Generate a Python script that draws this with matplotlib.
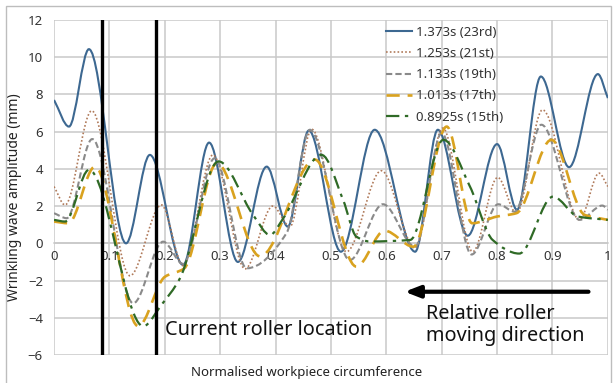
import numpy as np
import matplotlib
matplotlib.use("Agg")
import matplotlib.pyplot as plt
from matplotlib.path import Path
from matplotlib.patches import PathPatch, Rectangle
from matplotlib.lines import Line2D

plt.rcParams['font.family'] = ['Noto Sans', 'DejaVu Sans']

# Data (peaks / troughs / shoulders of each wave)
labels = ['1.373s (23rd)', '1.253s (21st)', '1.133s (19th)', '1.013s (17th)', '0.8925s (15th)']

x_23 = [0, 0.027, 0.063, 0.13, 0.173, 0.233, 0.28, 0.332, 0.384, 0.422, 0.46, 0.518,
        0.579, 0.652, 0.693, 0.747, 0.80, 0.836, 0.879, 0.93, 0.982, 1.0]
y_23 = [7.7, 6.27, 10.43, 0.0, 4.75, -1.16, 5.41, -1.0, 4.12, 0.9, 6.06, -0.45,
        6.1, -0.45, 6.1, 0.41, 5.33, 1.8, 8.96, 4.09, 9.09, 7.8]

x_21 = [0, 0.02, 0.068, 0.137, 0.194, 0.233, 0.287, 0.345, 0.395, 0.426, 0.465, 0.528,
        0.591, 0.652, 0.702, 0.756, 0.801, 0.835, 0.882, 0.949, 0.984, 1.0]
y_21 = [3.05, 2.06, 7.12, -1.74, 2.06, -1.2, 4.75, -1.37, 2.0, 0.9, 6.13, -0.45,
        3.9, -0.25, 6.19, -0.45, 3.54, 1.62, 7.17, 1.26, 3.77, 3.05]

x_19 = [0, 0.023, 0.069, 0.143, 0.197, 0.233, 0.29, 0.348, 0.42, 0.462, 0.534,
        0.594, 0.652, 0.70, 0.754, 0.802, 0.832, 0.88, 0.949, 0.99, 1.0]
y_19 = [1.62, 1.35, 5.6, -3.22, 0.09, -1.1, 4.57, -1.34, 0.56, 6.1, -0.9,
        2.1, -0.18, 5.92, -0.6, 2.1, 1.7, 6.37, 1.26, 2.03, 1.8]

x_17 = [0, 0.026, 0.074, 0.152, 0.2, 0.235, 0.294, 0.372, 0.471, 0.546, 0.597,
        0.649, 0.709, 0.755, 0.80, 0.835, 0.898, 0.958, 1.0]
y_17 = [1.17, 1.08, 4.12, -4.45, -1.8, -1.35, 4.3, -0.7, 4.5, -1.25, 0.68,
        -0.18, 6.27, 1.08, 1.44, 1.62, 5.56, 1.53, 1.26]

x_15 = [0, 0.02, 0.063, 0.161, 0.194, 0.227, 0.297, 0.36, 0.39, 0.414, 0.483, 0.522,
        0.546, 0.57, 0.643, 0.703, 0.751, 0.792, 0.84, 0.901, 0.946, 1.0]
y_15 = [1.26, 1.17, 3.95, -4.45, -3.3, -1.9, 4.4, 1.5, 0.45, 1.35, 4.75, 2.33,
        0.36, 0.1, 0.18, 5.56, 3.05, 0.18, -0.55, 2.51, 1.44, 1.26]

series_x = [x_23, x_21, x_19, x_17, x_15]
series_y = [y_23, y_21, y_19, y_17, y_15]
colors = ['#3d6891', '#b07a5a', '#8a8a8a', '#d9a21f', '#2f6a26']
styles = ['-', (0, (1, 1.3)), (0, (3, 1.5)), (0, (5, 3)), (0, (6, 2.5, 1.5, 2.5))]
widths = [1.5, 1.2, 1.5, 1.9, 1.6]

roller_x = [0.086, 0.184]


def smooth_path(x, y):
    # monotone cubic (pchip-style) tangents, drawn as Bezier segments
    x = np.asarray(x, float)
    y = np.asarray(y, float)
    h = np.diff(x)
    d = np.diff(y) / h
    m = np.zeros_like(x)
    m[0], m[-1] = d[0], d[-1]
    for k in range(1, len(x) - 1):
        if d[k - 1] * d[k] > 0:
            w1 = 2 * h[k] + h[k - 1]
            w2 = h[k] + 2 * h[k - 1]
            m[k] = (w1 + w2) / (w1 / d[k - 1] + w2 / d[k])
    verts = [(x[0], y[0])]
    codes = [Path.MOVETO]
    for k in range(len(x) - 1):
        verts += [(x[k] + h[k] / 3, y[k] + m[k] * h[k] / 3),
                  (x[k + 1] - h[k] / 3, y[k + 1] - m[k + 1] * h[k] / 3),
                  (x[k + 1], y[k + 1])]
        codes += [Path.CURVE4] * 3
    return Path(verts, codes)


fig = plt.figure(figsize=(6.14, 3.83), dpi=100)
ax = fig.add_axes([0.088, 0.073, 0.902, 0.875])

# outer chart border
fig.patches.append(Rectangle((6 / 614, -0.01), 605 / 614, 1 - 6 / 383 + 0.01,
                             transform=fig.transFigure, fill=False,
                             edgecolor='#bdbdbd', lw=1))

ax.set_xlim(0, 1)
ax.set_ylim(-6, 12)
ax.set_xticks(np.arange(0, 1.01, 0.1))
ax.set_xticklabels(['0', '0.1', '0.2', '0.3', '0.4', '0.5', '0.6', '0.7', '0.8', '0.9', '1'])
ax.set_yticks(np.arange(-6, 12.1, 2))
ax.grid(True, color='#c9c9c9', lw=1.1)
ax.set_axisbelow(True)
for s in ['top', 'right', 'left']:
    ax.spines[s].set_visible(False)
ax.spines['bottom'].set_position(('data', 0))
ax.spines['bottom'].set_color('#c9c9c9')
ax.spines['bottom'].set_linewidth(1.1)
ax.tick_params(length=0, labelsize=9.5, colors='#333333')
ax.tick_params(axis='x', pad=5)
ax.tick_params(axis='y', pad=8)

handles = []
for xs, ys, c, ls, lw, lab in zip(series_x, series_y, colors, styles, widths, labels):
    p = PathPatch(smooth_path(xs, ys), fill=False, edgecolor=c, lw=lw, linestyle=ls,
                  capstyle='butt', zorder=3)
    ax.add_patch(p)
    handles.append(Line2D([], [], color=c, lw=lw, linestyle=ls, label=lab))

for rx in roller_x:
    ax.axvline(rx, color='black', lw=2.4, zorder=4)

ax.legend(handles=handles, loc='upper left', bbox_to_anchor=(0.59, 0.998), frameon=False,
          fontsize=9.5, handlelength=1.95, handletextpad=0.3, labelspacing=0.62,
          borderaxespad=0, labelcolor='#333333')

ax.text(0.2, -4.65, 'Current roller location', fontsize=14.3, va='center', ha='left',
        color='#111111', zorder=5)
ax.text(0.672, -4.4, 'Relative roller\nmoving direction', fontsize=14.3, va='center',
        ha='left', color='#111111', linespacing=1.15, zorder=5)
ax.annotate('', xy=(0.628, -2.6), xytext=(0.97, -2.6),
            arrowprops=dict(arrowstyle='-|>,head_length=0.9,head_width=0.35',
                            color='black', lw=3))

ax.set_ylabel('Wrinkling wave amplitude (mm)', fontsize=10, color='#222222')
ax.yaxis.set_label_coords(-0.058, 0.47)
fig.text(0.5, 0.028, 'Normalised workpiece circumference', ha='center', va='center',
         fontsize=9.5, color='#222222')

fig.savefig('out.png', dpi=100)
